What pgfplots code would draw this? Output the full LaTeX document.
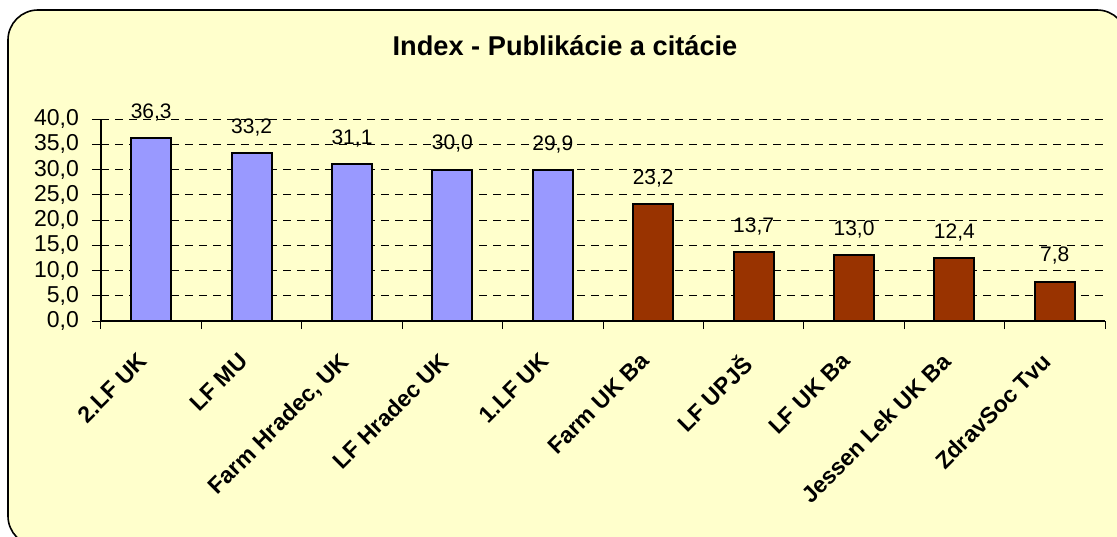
\documentclass[border=0pt]{standalone}
\usepackage{pgfplots}
\pgfplotsset{compat=1.18}
\usepackage{fontspec}
\setmainfont{Liberation Sans}
\definecolor{bgyellow}{HTML}{FFFFCC}
\definecolor{barblue}{HTML}{9999FF}
\definecolor{barbrown}{HTML}{993300}
\begin{document}
\begin{tikzpicture}
% frame, in pixel units of the reference (y downwards); it runs past the right and bottom edge
\begin{scope}[x=0.5pt, y=-0.5pt, shift={(-50.5pt,160.5pt)}]
  \clip (0,0) rectangle (1117,536);
  \fill[black, rounded corners=15pt] (10,12) rectangle (1130,549);
  \filldraw[fill=bgyellow, draw=black, line width=0.8pt, rounded corners=15pt] (8,10) rectangle (1127,546);
\end{scope}
\begin{scope}[x=0.5pt, y=-0.5pt, shift={(-50.5pt,160.5pt)}]
  \node[font=\bfseries\fontsize{13.6}{16}\selectfont] at (565,46) {Index - Publikácie a citácie};
\end{scope}
\begin{axis}[
    at={(0pt,0pt)}, anchor=south west,
    scale only axis,
    width=502pt, height=101pt,
    xmin=-0.5, xmax=9.5,
    ymin=0, ymax=40,
    axis lines*=left,
    axis line style={black, line width=0.6pt},
    ybar, bar width=20pt, bar shift=0pt,
    tick align=outside,
    ytick={0,5,...,40},
    major tick length=4.5pt,
    minor tick length=4pt,
    xtick={0,...,9},
    minor xtick={-0.5,0.5,...,9.5},
    every major x tick/.style={draw=none},
    every minor x tick/.style={black, line width=0.5pt},
    every major y tick/.style={black, line width=0.5pt},
    ymajorgrids,
    major grid style={black, line width=0.5pt, dash pattern=on 4pt off 3pt},
    xticklabels={2.LF UK, LF MU, {Farm Hradec, UK}, LF Hradec UK, 1.LF UK, Farm UK Ba, LF UPJŠ, LF UK Ba, Jessen Lek UK Ba, ZdravSoc Tvu},
    x tick label style={xshift=-7pt, yshift=-10.5pt, rotate=45, anchor=north east, inner sep=0pt, font=\bfseries\fontsize{11.5}{13}\selectfont},
    yticklabel style={xshift=-3pt, font=\fontsize{11.5}{13}\selectfont, /pgf/number format/.cd, fixed, fixed zerofill, precision=1, use comma, assume math mode=true},
    nodes near coords={\pgfmathprintnumber[fixed,fixed zerofill,precision=1,use comma,assume math mode=true]{\pgfplotspointmeta}},
    nodes near coords style={font=\fontsize{10.5}{12}\selectfont, anchor=south, inner sep=0pt, yshift=8pt, black},
    clip=false,
]
\addplot[fill=barblue, draw=black, line width=1pt] coordinates {
    (0,36.3) (1,33.2) (2,31.1) (3,30.0) (4,29.9)
};
\addplot[fill=barbrown, draw=black, line width=1pt] coordinates {
    (5,23.2) (6,13.7) (7,13.0) (8,12.4) (9,7.8)
};
\end{axis}
\pgfresetboundingbox
\useasboundingbox (-50.5pt,-107.5pt) rectangle (508pt,160.5pt);
\end{tikzpicture}
\end{document}
